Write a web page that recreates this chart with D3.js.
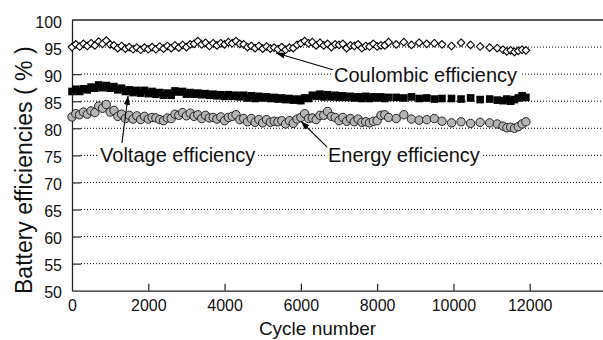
<!DOCTYPE html>
<html>
<head>
<meta charset="utf-8">
<script src="https://cdn.jsdelivr.net/npm/d3@7"></script>
<style>
  body { margin: 0; background: #fff; }
  svg { display: block; font-family: "Liberation Sans", Arial, sans-serif; }
</style>
</head>
<body>
<div id="chart"></div>
<script>
// cycle numbers (x) shared by the three series
const cycles = [
  0, 100, 200, 300, 400, 500, 600, 700, 800, 900,
  1000, 1100, 1200, 1300, 1400, 1500, 1600, 1700, 1800, 1900,
  2000, 2100, 2200, 2300, 2400, 2500, 2600, 2700, 2800, 2900,
  3000, 3100, 3200, 3300, 3400, 3500, 3600, 3700, 3800, 3900,
  4000, 4100, 4200, 4300, 4400, 4500, 4600, 4700, 4800, 4900,
  5000, 5100, 5200, 5300, 5400, 5500, 5600, 5700, 5800, 5900,
  6000, 6100, 6200, 6300, 6400, 6500, 6600, 6700, 6800, 6900,
  7000, 7100, 7200, 7300, 7400, 7500, 7600, 7700, 7800, 7900,
  8000, 8100, 8200, 8300,
  8500, 8700, 8900, 9100, 9300, 9500, 9700,
  9950, 10200, 10450, 10700, 10950, 11150,
  11300, 11400, 11500, 11600, 11700, 11800, 11900
];

const coulombic = [
  95.0, 95.5, 95.1, 95.6, 95.2, 95.7, 95.3, 96.0, 95.6, 96.2,
  95.5, 95.3, 94.8, 95.2, 94.7, 95.0, 94.6, 94.9, 94.5, 94.9,
  94.6, 95.0, 94.6, 95.1, 94.7, 95.2, 94.8, 95.3, 94.9, 95.4,
  95.0, 95.5, 95.6, 96.1, 95.5, 95.8, 95.2, 95.7, 95.3, 95.7,
  95.5, 95.9, 95.7, 96.1, 95.6, 95.5, 95.0, 95.2, 94.8, 95.2,
  94.7, 95.1, 94.7, 94.9, 94.6, 95.0, 94.5, 94.9, 94.8, 95.4,
  95.7, 96.1, 95.7, 95.9, 95.3, 95.8, 95.3, 95.6, 95.0, 95.5,
  95.4, 95.6, 94.8, 95.3, 95.2, 95.5, 94.8, 95.2, 95.1, 95.6,
  95.1, 95.3, 95.3, 95.9,
  95.5, 95.9, 95.4, 95.8, 95.6, 95.7, 95.5,
  95.2, 95.8, 95.4, 95.1, 94.9, 94.8,
  94.5, 94.2, 94.4, 94.1, 94.3, 94.5, 94.4
];

const voltage = [
  86.8, 87.2, 86.8, 87.3, 87.1, 87.6, 87.4, 88.0, 87.5, 87.9,
  87.4, 87.7, 87.1, 87.4, 86.8, 87.1, 86.6, 87.0, 86.5, 87.0,
  86.4, 86.8, 86.3, 86.6, 86.1, 86.5, 86.1, 86.9, 86.7, 86.8,
  86.3, 86.6, 86.3, 86.5, 86.2, 86.4, 86.1, 86.3, 86.0, 86.2,
  85.9, 86.2, 85.9, 86.1, 85.8, 86.1, 85.6, 86.0, 85.5, 85.9,
  85.6, 85.8, 85.5, 85.7, 85.4, 85.6, 85.3, 85.5, 85.2, 85.4,
  85.1, 85.6, 85.5, 86.1, 85.9, 86.3, 85.8, 86.2, 85.8, 86.1,
  85.7, 86.0, 85.7, 85.9, 85.6, 85.8, 85.5, 85.9, 85.5, 85.8,
  85.6, 85.8, 85.5, 85.7,
  85.7, 85.6, 85.8, 85.5, 85.6, 85.4, 85.5,
  85.5, 85.4, 85.6, 85.3, 85.4, 85.2,
  85.1, 85.4, 85.0, 85.3, 85.6, 86.0, 85.7
];

const energy = [
  82.1, 82.7, 82.5, 83.0, 82.6, 83.2, 82.9, 84.1, 83.7, 84.4,
  83.0, 83.3, 82.2, 82.6, 81.8, 82.4, 81.7, 82.3, 81.6, 82.2,
  81.7, 82.0, 81.9, 81.6, 81.4, 81.9, 81.8, 82.6, 82.4, 82.9,
  82.3, 82.8, 82.2, 82.5, 81.8, 82.4, 81.9, 82.0, 81.7, 82.1,
  81.4, 82.0, 82.2, 82.5, 81.6, 81.8, 81.2, 81.8, 81.1, 81.6,
  81.0, 81.6, 81.1, 81.3, 81.2, 81.4, 80.8, 81.4, 80.9, 81.7,
  82.0, 82.7, 81.8, 81.9, 81.6, 82.4, 82.4, 83.1, 82.2, 82.0,
  81.4, 82.0, 81.3, 81.8, 81.2, 81.7, 81.1, 81.2, 81.0, 81.3,
  81.4, 82.4, 82.5, 82.0,
  81.8, 82.5, 81.7, 81.5, 81.6, 81.8, 81.3,
  81.0, 81.2, 80.9, 81.1, 81.0, 80.8,
  80.4, 80.1, 80.2, 80.0, 80.3, 80.8, 81.2
];

const xTicks = [0, 2000, 4000, 6000, 8000, 10000, 12000];
const yTicks = [50, 55, 60, 65, 70, 75, 80, 85, 90, 95, 100];
const gridValues = [55, 60, 65, 70, 75, 80, 85, 90, 95];

// annotation labels: text start (cycle, %), arrow start and arrow tip (cycle, %)
const labels = [
  { text: 'Coulombic efficiency', at: [6870, 88.55], from: [6840, 90.8], to: [5350, 93.9] },
  { text: 'Voltage efficiency', at: [735, 73.77], from: [1310, 77.3], to: [1470, 86.0] },
  { text: 'Energy efficiency', at: [6710, 73.77], from: [6690, 76.5], to: [6000, 81.3] }
];

const width = 603, height = 340;
const x = d3.scaleLinear().domain([0, 14000]).range([72, 606]);
const y = d3.scaleLinear().domain([50, 100]).range([290.7, 20]);

const svg = d3.select('#chart').append('svg')
  .attr('width', width).attr('height', height);

svg.append('defs').append('marker')
  .attr('id', 'arrow').attr('viewBox', '0 0 10 10')
  .attr('refX', 10).attr('refY', 5)
  .attr('markerWidth', 9).attr('markerHeight', 9)
  .attr('markerUnits', 'userSpaceOnUse')
  .attr('orient', 'auto')
  .append('path').attr('d', 'M0,1.5 L10,5 L0,8.5 Z').attr('fill', '#000');

// dotted gridlines
svg.append('g').selectAll('line')
  .data(gridValues).enter().append('line')
  .attr('x1', 81).attr('x2', width)
  .attr('y1', d => y(d)).attr('y2', d => y(d))
  .attr('stroke', '#000').attr('stroke-width', 1)
  .attr('stroke-dasharray', '1,2');

// top frame line
svg.append('line')
  .attr('x1', 72).attr('x2', width)
  .attr('y1', y(100)).attr('y2', y(100))
  .attr('stroke', '#222').attr('stroke-width', 1.3);

// axes with inward ticks
const yAxis = svg.append('g').attr('transform', 'translate(72,0)')
  .call(d3.axisLeft(y).tickValues(yTicks).tickSizeInner(-9).tickSizeOuter(0).tickPadding(10));
const xAxis = svg.append('g').attr('transform', `translate(0,${y(50)})`)
  .call(d3.axisBottom(x).tickValues(xTicks).tickFormat(d3.format('d'))
    .tickSizeInner(-7).tickSizeOuter(0).tickPadding(9));

[yAxis, xAxis].forEach(a => {
  a.select('.domain').attr('stroke', '#222').attr('stroke-width', 1.3);
  a.selectAll('.tick line').attr('stroke', '#222').attr('stroke-width', 1.2);
  a.selectAll('.tick text').attr('font-size', 16).attr('fill', '#111')
    .attr('font-family', '"Liberation Sans", Arial, sans-serif');
});
yAxis.selectAll('.tick text').attr('dy', '0.45em');
xAxis.selectAll('.tick line').filter(d => d === 0).remove();
yAxis.selectAll('.tick line').filter(d => d === 50 || d === 100).remove();

// axis titles
svg.append('text')
  .attr('transform', 'translate(32,294) rotate(-90)')
  .attr('font-size', 23).attr('fill', '#111')
  .text('Battery efficiencies ( % )');
svg.append('text')
  .attr('x', 317.5).attr('y', 335).attr('text-anchor', 'middle')
  .attr('font-size', 19).attr('fill', '#111')
  .text('Cycle number');

// label boxes (white) that interrupt the gridlines
const labelG = svg.append('g');
labels.forEach(l => {
  const t = labelG.append('text')
    .attr('x', x(l.at[0])).attr('y', y(l.at[1]))
    .attr('font-size', 20).attr('fill', '#111')
    .text(l.text);
  const b = t.node().getBBox();
  labelG.insert('rect', 'text')
    .attr('x', b.x - 3).attr('y', b.y + 2)
    .attr('width', b.width + 6).attr('height', b.height - 4)
    .attr('fill', '#fff');
});

const rows = cycles.map((c, i) => ({ c, ce: coulombic[i], ve: voltage[i], ee: energy[i] }));

// energy efficiency: grey circles
svg.append('g').selectAll('circle')
  .data(rows).enter().append('circle')
  .attr('cx', d => x(d.c)).attr('cy', d => y(d.ee))
  .attr('r', 4.2)
  .attr('fill', '#b5b5b5').attr('stroke', '#222').attr('stroke-width', 1);

// voltage efficiency: black squares
svg.append('g').selectAll('rect')
  .data(rows).enter().append('rect')
  .attr('x', d => x(d.c) - 3.8).attr('y', d => y(d.ve) - 3.8)
  .attr('width', 7.6).attr('height', 7.6)
  .attr('fill', '#000');

// coulombic efficiency: open diamonds
const diamond = 'M0,-3.8 L3.8,0 L0,3.8 L-3.8,0 Z';
svg.append('g').selectAll('path')
  .data(rows).enter().append('path')
  .attr('transform', d => `translate(${x(d.c)},${y(d.ce)})`)
  .attr('d', diamond)
  .attr('fill', '#fff').attr('stroke', '#000').attr('stroke-width', 1.1);

// arrows from labels to series
svg.append('g').selectAll('line')
  .data(labels).enter().append('line')
  .attr('x1', d => x(d.from[0])).attr('y1', d => y(d.from[1]))
  .attr('x2', d => x(d.to[0])).attr('y2', d => y(d.to[1]))
  .attr('stroke', '#000').attr('stroke-width', 1.1)
  .attr('marker-end', 'url(#arrow)');
</script>
</body>
</html>
